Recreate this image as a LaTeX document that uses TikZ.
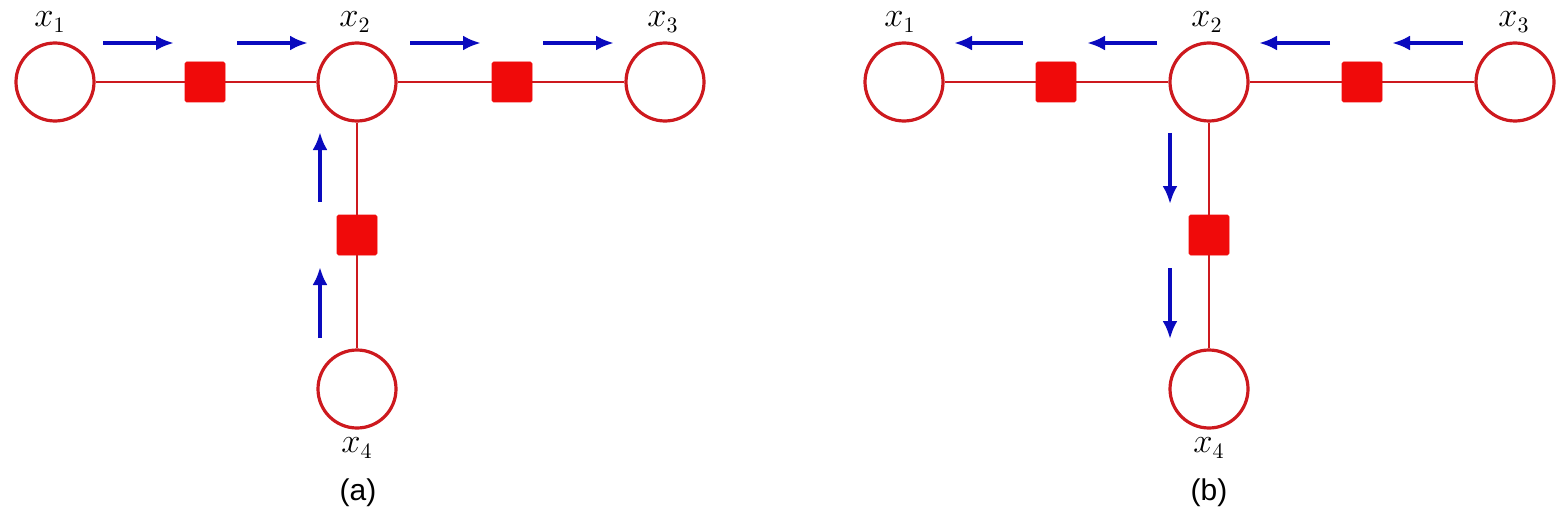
\documentclass[tikz,border=0pt]{standalone}
\usepackage{fontspec}
\newfontfamily\capfont{Liberation Sans}
\usetikzlibrary{arrows.meta}
\definecolor{edgered}{RGB}{205,25,30}
\definecolor{sqred}{RGB}{240,10,10}
\definecolor{msgblue}{RGB}{10,10,190}
\tikzset{
  var/.style={circle,draw=edgered,line width=1.6pt,fill=white,minimum size=39pt,inner sep=0pt},
  fac/.style={rectangle,fill=sqred,draw=sqred,line width=0.4pt,minimum size=20pt,inner sep=0pt,rounded corners=0.8pt},
  link/.style={draw=edgered,line width=1.4pt},
  msg/.style={draw=msgblue,line width=1.8pt,-{Latex[length=9pt,width=7.5pt]}},
  vlab/.style={inner sep=0pt,font=\fontsize{16}{19}\selectfont},
  captext/.style={inner sep=0pt,font=\capfont\fontsize{15}{18}\selectfont},
}
\begin{document}
\begin{tikzpicture}[x=0.5pt,y=-0.5pt]
\useasboundingbox (0,0) rectangle (1557,519);
% ---------- panel (a) ----------
\node[var] (a1) at (55,82) {};
\node[fac] (af12) at (205,82) {};
\node[var] (a2) at (357,82) {};
\node[fac] (af23) at (512,82) {};
\node[var] (a3) at (665,82) {};
\node[fac] (af24) at (357,235) {};
\node[var] (a4) at (357,389) {};
\draw[link] (a1) -- (af12) -- (a2) -- (af23) -- (a3);
\draw[link] (a2) -- (af24) -- (a4);
\node[vlab] (la1) at (50,22) {$x_1$};
\node[vlab] (la2) at (355,22) {$x_2$};
\node[vlab] (la3) at (663,22) {$x_3$};
\node[vlab] (la4) at (357,448) {$x_4$};
\node[captext] (capa) at (358,493) {(a)};
\coordinate (am1s) at (103,43); \coordinate (am1e) at (174,43);
\coordinate (am2s) at (237,43); \coordinate (am2e) at (308,43);
\coordinate (am3s) at (410,43); \coordinate (am3e) at (481,43);
\coordinate (am4s) at (543,43); \coordinate (am4e) at (614,43);
\coordinate (am5s) at (320,202); \coordinate (am5e) at (320,132);
\coordinate (am6s) at (320,338); \coordinate (am6e) at (320,267);
\foreach \i in {1,...,6} \draw[msg] (am\i s) -- (am\i e);
% ---------- panel (b) ----------
\node[var] (b1) at (904,82) {};
\node[fac] (bf12) at (1056,82) {};
\node[var] (b2) at (1209,82) {};
\node[fac] (bf23) at (1362,82) {};
\node[var] (b3) at (1515,82) {};
\node[fac] (bf24) at (1209,235) {};
\node[var] (b4) at (1209,389) {};
\draw[link] (b1) -- (bf12) -- (b2) -- (bf23) -- (b3);
\draw[link] (b2) -- (bf24) -- (b4);
\node[vlab] (lb1) at (900,22) {$x_1$};
\node[vlab] (lb2) at (1207,22) {$x_2$};
\node[vlab] (lb3) at (1514,22) {$x_3$};
\node[vlab] (lb4) at (1209,448) {$x_4$};
\node[captext] (capb) at (1209,493) {(b)};
\coordinate (bm1s) at (1023,43); \coordinate (bm1e) at (954,43);
\coordinate (bm2s) at (1157,43); \coordinate (bm2e) at (1087,43);
\coordinate (bm3s) at (1330,43); \coordinate (bm3e) at (1259,43);
\coordinate (bm4s) at (1463,43); \coordinate (bm4e) at (1392,43);
\coordinate (bm5s) at (1170,133); \coordinate (bm5e) at (1170,204);
\coordinate (bm6s) at (1170,268); \coordinate (bm6e) at (1170,339);
\foreach \i in {1,...,6} \draw[msg] (bm\i s) -- (bm\i e);
\end{tikzpicture}
\end{document}
